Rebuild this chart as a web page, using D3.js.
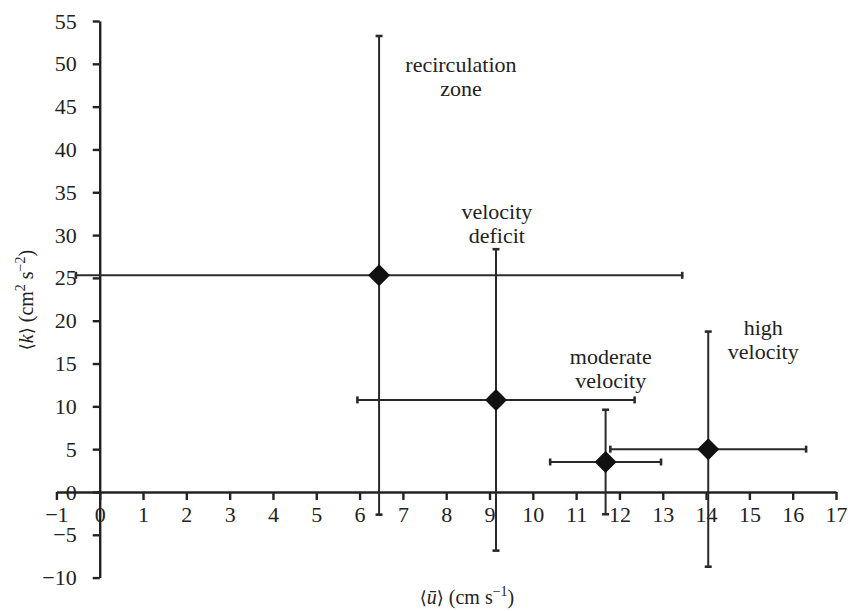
<!DOCTYPE html>
<html>
<head>
<meta charset="utf-8">
<script src="https://cdn.jsdelivr.net/npm/d3@7"></script>
<style>
  html, body { margin: 0; padding: 0; background: #fff; }
  svg { display: block; }
  text { font-family: "Liberation Serif", "Times New Roman", Times, "Tinos", "Nimbus Roman", "Noto Serif", "DejaVu Serif", serif; fill: #222; }
</style>
</head>
<body>
<svg id="chart" width="848" height="611"></svg>
<script>
// Flow regimes: mean velocity <u> and mean turbulent kinetic energy <k>, with ± spread
const regimes = ["recirculation zone", "velocity deficit", "moderate velocity", "high velocity"];
const uMean = [6.45, 9.15, 11.68, 14.05];
const uErr  = [7.0, 3.2, 1.28, 2.26];
const kMean = [25.3, 10.75, 3.5, 5.0];
const kErr  = [27.95, 17.6, 6.1, 13.73];

const xTicks = d3.range(-1, 18, 1);
const yTicks = d3.range(-10, 56, 5);

// annotation anchors in data units (baseline of first text line)
const labelLines = [["recirculation", "zone"], ["velocity", "deficit"], ["moderate", "velocity"], ["high", "velocity"]];
const labelU = [8.34, 9.17, 11.8, 15.32];
const labelK = [49.1, 31.9, 15.0, 18.3];

const svg = d3.select("#chart");
const x = d3.scaleLinear().domain([-1, 17]).range([56.4, 836]);
const y = d3.scaleLinear().domain([-10, 55]).range([577.6, 21]);

const ink = "#222";
const fmt = d => d3.format("")(d).replace("-", "\u2212");

// x axis along k = 0
const gx = svg.append("g")
  .attr("transform", `translate(0,${y(0)})`)
  .call(d3.axisBottom(x).tickValues(xTicks).tickSize(8).tickSizeOuter(0).tickPadding(6).tickFormat(fmt));
gx.attr("font-family", null);
gx.select(".domain").attr("stroke", ink).attr("stroke-width", 2.4);
gx.selectAll(".tick line").attr("stroke", ink).attr("stroke-width", 2.4);
gx.selectAll(".tick text").attr("font-size", 22).attr("fill", ink);

// y axis along u = 0
const gy = svg.append("g")
  .attr("transform", `translate(${x(0)},0)`)
  .call(d3.axisLeft(y).tickValues(yTicks).tickSize(7).tickSizeOuter(0).tickPadding(16).tickFormat(fmt));
gy.attr("font-family", null);
gy.select(".domain").attr("stroke", ink).attr("stroke-width", 2.4);
gy.selectAll(".tick line").attr("stroke", ink).attr("stroke-width", 2.4);
gy.selectAll(".tick text").attr("font-size", 22).attr("fill", ink);

// error bars
const data = regimes.map((r, i) => ({ r, u: uMean[i], du: uErr[i], k: kMean[i], dk: kErr[i] }));
const bars = svg.append("g").attr("stroke", "#2a2a2a").attr("stroke-width", 2).attr("fill", "none");
const cap = 3.5;
data.forEach(d => {
  bars.append("line").attr("x1", x(d.u - d.du)).attr("x2", x(d.u + d.du)).attr("y1", y(d.k)).attr("y2", y(d.k));
  bars.append("line").attr("x1", x(d.u)).attr("x2", x(d.u)).attr("y1", y(d.k - d.dk)).attr("y2", y(d.k + d.dk));
  [d.u - d.du, d.u + d.du].forEach(v =>
    bars.append("line").attr("x1", x(v)).attr("x2", x(v)).attr("y1", y(d.k) - cap).attr("y2", y(d.k) + cap).attr("stroke-width", 2.6));
  [d.k - d.dk, d.k + d.dk].forEach(v =>
    bars.append("line").attr("y1", y(v)).attr("y2", y(v)).attr("x1", x(d.u) - cap).attr("x2", x(d.u) + cap).attr("stroke-width", 2.6));
});

// diamond markers
const h = 11;
svg.append("g").selectAll("path").data(data).join("path")
  .attr("d", d => `M${x(d.u)},${y(d.k) - h}L${x(d.u) + h},${y(d.k)}L${x(d.u)},${y(d.k) + h}L${x(d.u) - h},${y(d.k)}Z`)
  .attr("fill", "#111");

// regime annotations
const ann = svg.append("g").attr("text-anchor", "middle").attr("font-size", 22);
labelLines.forEach((lines, i) => {
  const t = ann.append("text").attr("x", x(labelU[i])).attr("y", y(labelK[i]));
  lines.forEach((s, j) => t.append("tspan").attr("x", x(labelU[i])).attr("dy", j ? 24 : 0).text(s));
});

// axis titles
const xt = svg.append("text").attr("x", 467).attr("y", 604).attr("text-anchor", "middle").attr("font-size", 20);
xt.append("tspan").attr("font-size", 18).text("\u27E8");
xt.append("tspan").attr("font-style", "italic").text("\u016B");
xt.append("tspan").attr("font-size", 18).text("\u27E9");
xt.append("tspan").text(" (cm s");
xt.append("tspan").attr("font-size", 14).attr("dy", -8).text("\u22121");
xt.append("tspan").attr("dy", 8).text(")");

const yt = svg.append("text").attr("transform", "translate(33,300) rotate(-90)").attr("text-anchor", "middle").attr("font-size", 20);
yt.append("tspan").attr("font-size", 18).text("\u27E8");
yt.append("tspan").attr("font-style", "italic").text("k");
yt.append("tspan").attr("font-size", 18).text("\u27E9");
yt.append("tspan").text(" (cm");
yt.append("tspan").attr("font-size", 14).attr("dy", -8).text("2");
yt.append("tspan").attr("dy", 8).text(" s");
yt.append("tspan").attr("font-size", 14).attr("dy", -8).text("\u22122");
yt.append("tspan").attr("dy", 8).text(")");
</script>
</body>
</html>
